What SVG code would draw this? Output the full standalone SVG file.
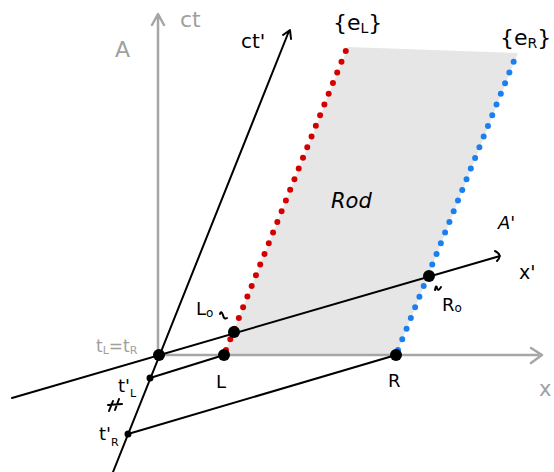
<svg xmlns="http://www.w3.org/2000/svg" width="554" height="472" viewBox="0 0 554 472">
<style>
.ax{stroke:#a6a6a6;stroke-width:2.5;fill:none;stroke-linecap:round;stroke-linejoin:round}
.ln{stroke:#000;stroke-width:2;fill:none;stroke-linecap:round;stroke-linejoin:round}
.t{font-family:"DejaVu Sans","Liberation Sans",sans-serif;fill:#000}
.g{fill:#a0a0a0}
.red{stroke:#d40000;stroke-width:6;stroke-dasharray:0 11.5;stroke-linecap:round;fill:none}
.blue{stroke:#1a7ff0;stroke-width:6;stroke-dasharray:0 11.5;stroke-linecap:round;fill:none}
</style>
<rect width="554" height="472" fill="#fff"/>
<g id="rod">
<polygon points="224,355 348,47 518,53 396,355" fill="#e6e6e6"/>
<text class="t" x="331" y="208" font-size="21" font-style="italic">Rod</text>
</g>
<g id="axes">
<path class="ax" d="M158,355 V15 M152,25 L158,14 L164,25"/>
<path class="ax" d="M158,355 H538 M531,348 L542,355 L531,363"/>
<text class="t g" x="180" y="27" font-size="22">ct</text>
<text class="t g" x="115" y="57" font-size="22">A</text>
<text class="t g" x="539" y="396" font-size="21">x</text>
</g>
<g id="connectors">
<path class="ln" d="M113,472 L289,31 M283,35 L290,30 L291,39"/>
<path class="ln" d="M12,398 L500,256 M495,251 Q503,255 497,261"/>
<path class="ln" d="M150,378 L224,355"/>
<path class="ln" d="M128,434 L396,355"/>
</g>
<g id="worldline-L">
<path class="red" d="M226,350 L347,48"/>
<text class="t" x="333" y="30" font-size="22" fill="#d40000">{e<tspan font-size="14" dy="3">L</tspan><tspan dy="-3">}</tspan></text>
</g>
<g id="worldline-R">
<path class="blue" d="M398,350 L514,61"/>
<text class="t" x="500" y="45" font-size="22" fill="#1a7ff0">{e<tspan font-size="14" dy="3">R</tspan><tspan dy="-3">}</tspan></text>
</g>
<g id="origin">
<circle cx="159" cy="355" r="6"/>
<text class="t g" x="96" y="352" font-size="17">t<tspan font-size="11" dy="2">L</tspan><tspan dy="-2">=t</tspan><tspan font-size="11" dy="2">R</tspan></text>
</g>
<g id="L0">
<circle cx="234" cy="332" r="6"/>
<text class="t" x="196" y="315" font-size="18">L<tspan font-size="12" dy="2">o</tspan></text>
<path class="ln" stroke-width="1.2" d="M220,314 Q221,310 223,315 Q224,320 227,318"/>
</g>
<g id="R0">
<circle cx="429" cy="276" r="6"/>
<text class="t" x="442" y="311" font-size="18">R<tspan font-size="12" dy="1">o</tspan></text>
<path class="ln" stroke-width="1.2" d="M435,290 Q436,284 437,288 Q438,292 441,287"/>
</g>
<g id="L">
<circle cx="224" cy="355" r="6"/>
<text class="t" x="216" y="388" font-size="18">L</text>
</g>
<g id="R">
<circle cx="396" cy="355" r="6"/>
<text class="t" x="388" y="387" font-size="18">R</text>
</g>
<g id="tL">
<circle cx="150" cy="378" r="3.5"/>
<text class="t" x="118" y="392" font-size="18">t'<tspan font-size="11" dy="5">L</tspan></text>
</g>
<g id="gap">
<path class="ln" stroke-width="1.5" d="M113,401 L109,411 M119,399 L115,410 M108,405 L122,404"/>
</g>
<g id="tR">
<circle cx="128" cy="434" r="3.5"/>
<text class="t" x="99" y="440" font-size="18">t'<tspan font-size="11" dy="6">R</tspan></text>
</g>
<g id="labels">
<text class="t" x="241" y="48" font-size="20">ct'</text>
<text class="t" x="498" y="229" font-size="18" font-style="italic">A'</text>
<text class="t" x="519" y="279" font-size="19">x'</text>
</g>
</svg>
